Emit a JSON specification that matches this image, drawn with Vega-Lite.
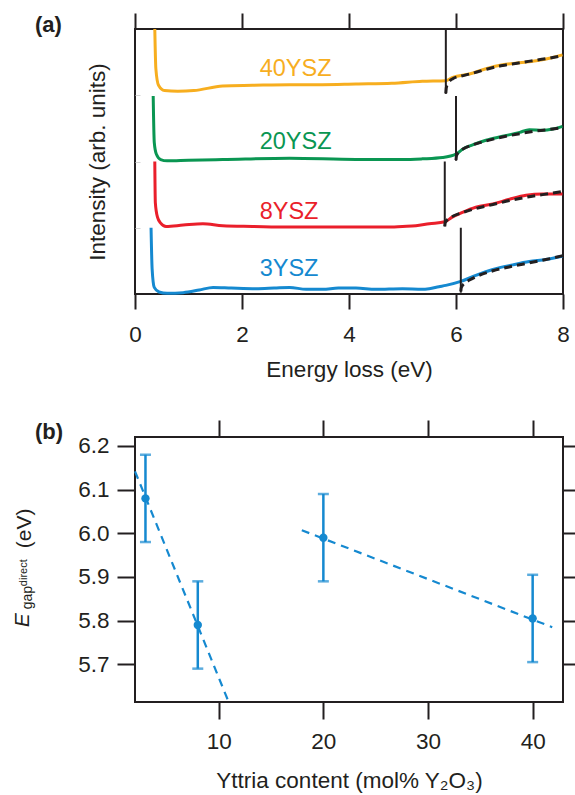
{
  "$schema": "https://vega.github.io/schema/vega-lite/v6.json",
  "padding": {"left": 10, "top": 11, "right": 0, "bottom": 0},
  "spacing": 36,
  "config": {
    "font": "Liberation Sans",
    "view": {"stroke": "#231f20", "strokeWidth": 2},
    "axis": {"domain": false, "grid": false, "tickColor": "#231f20", "tickWidth": 2, "labelColor": "#231f20", "labelFontSize": 22.5, "labelFont": "Liberation Sans", "titleFont": "Liberation Sans", "titleFontSize": 22.5, "titleFontWeight": "normal", "titleColor": "#231f20", "labelFlush": false, "labelOverlap": false},
    "title": {"fontSize": 22, "fontWeight": "bold", "color": "#231f20", "font": "Liberation Sans"}
  },
  "datasets": {
    "curves": [
      {"sample": "3YSZ", "E": 0.30, "I": 1.00}, {"sample": "3YSZ", "E": 0.32, "I": 0.38}, {"sample": "3YSZ", "E": 0.36, "I": 0.10}, {"sample": "3YSZ", "E": 0.45, "I": 0.03}, {"sample": "3YSZ", "E": 0.6, "I": 0.01}, {"sample": "3YSZ", "E": 0.9, "I": 0.02}, {"sample": "3YSZ", "E": 1.2, "I": 0.06}, {"sample": "3YSZ", "E": 1.46, "I": 0.10}, {"sample": "3YSZ", "E": 1.8, "I": 0.09}, {"sample": "3YSZ", "E": 2.26, "I": 0.08}, {"sample": "3YSZ", "E": 2.6, "I": 0.09}, {"sample": "3YSZ", "E": 2.89, "I": 0.10}, {"sample": "3YSZ", "E": 3.2, "I": 0.07}, {"sample": "3YSZ", "E": 3.51, "I": 0.07}, {"sample": "3YSZ", "E": 3.8, "I": 0.09}, {"sample": "3YSZ", "E": 4.13, "I": 0.09}, {"sample": "3YSZ", "E": 4.5, "I": 0.07}, {"sample": "3YSZ", "E": 5.0, "I": 0.08}, {"sample": "3YSZ", "E": 5.37, "I": 0.07}, {"sample": "3YSZ", "E": 5.5, "I": 0.08}, {"sample": "3YSZ", "E": 5.68, "I": 0.11}, {"sample": "3YSZ", "E": 5.81, "I": 0.13}, {"sample": "3YSZ", "E": 6.09, "I": 0.19}, {"sample": "3YSZ", "E": 6.37, "I": 0.28}, {"sample": "3YSZ", "E": 6.69, "I": 0.37}, {"sample": "3YSZ", "E": 7.06, "I": 0.44}, {"sample": "3YSZ", "E": 7.37, "I": 0.49}, {"sample": "3YSZ", "E": 7.68, "I": 0.52}, {"sample": "3YSZ", "E": 7.99, "I": 0.57},
      {"sample": "8YSZ", "E": 0.37, "I": 2.00}, {"sample": "8YSZ", "E": 0.38, "I": 1.38}, {"sample": "8YSZ", "E": 0.42, "I": 1.16}, {"sample": "8YSZ", "E": 0.48, "I": 1.07}, {"sample": "8YSZ", "E": 0.58, "I": 1.02}, {"sample": "8YSZ", "E": 0.9, "I": 1.04}, {"sample": "8YSZ", "E": 1.27, "I": 1.06}, {"sample": "8YSZ", "E": 1.64, "I": 1.03}, {"sample": "8YSZ", "E": 2.2, "I": 1.02}, {"sample": "8YSZ", "E": 2.89, "I": 1.01}, {"sample": "8YSZ", "E": 3.5, "I": 1.01}, {"sample": "8YSZ", "E": 4.13, "I": 1.01}, {"sample": "8YSZ", "E": 4.7, "I": 1.01}, {"sample": "8YSZ", "E": 5.0, "I": 1.02}, {"sample": "8YSZ", "E": 5.25, "I": 1.03}, {"sample": "8YSZ", "E": 5.5, "I": 1.06}, {"sample": "8YSZ", "E": 5.79, "I": 1.09}, {"sample": "8YSZ", "E": 5.93, "I": 1.16}, {"sample": "8YSZ", "E": 6.09, "I": 1.22}, {"sample": "8YSZ", "E": 6.37, "I": 1.31}, {"sample": "8YSZ", "E": 6.69, "I": 1.36}, {"sample": "8YSZ", "E": 7.0, "I": 1.43}, {"sample": "8YSZ", "E": 7.31, "I": 1.49}, {"sample": "8YSZ", "E": 7.62, "I": 1.51}, {"sample": "8YSZ", "E": 7.99, "I": 1.51},
      {"sample": "20YSZ", "E": 0.34, "I": 2.99}, {"sample": "20YSZ", "E": 0.36, "I": 2.29}, {"sample": "20YSZ", "E": 0.40, "I": 2.11}, {"sample": "20YSZ", "E": 0.48, "I": 2.03}, {"sample": "20YSZ", "E": 0.6, "I": 2.01}, {"sample": "20YSZ", "E": 1.0, "I": 2.02}, {"sample": "20YSZ", "E": 1.64, "I": 2.03}, {"sample": "20YSZ", "E": 2.89, "I": 2.05}, {"sample": "20YSZ", "E": 4.13, "I": 2.03}, {"sample": "20YSZ", "E": 5.0, "I": 2.03}, {"sample": "20YSZ", "E": 5.37, "I": 2.04}, {"sample": "20YSZ", "E": 5.75, "I": 2.06}, {"sample": "20YSZ", "E": 6.0, "I": 2.11}, {"sample": "20YSZ", "E": 6.13, "I": 2.19}, {"sample": "20YSZ", "E": 6.31, "I": 2.25}, {"sample": "20YSZ", "E": 6.56, "I": 2.32}, {"sample": "20YSZ", "E": 6.87, "I": 2.38}, {"sample": "20YSZ", "E": 7.19, "I": 2.44}, {"sample": "20YSZ", "E": 7.37, "I": 2.48}, {"sample": "20YSZ", "E": 7.62, "I": 2.47}, {"sample": "20YSZ", "E": 7.81, "I": 2.49}, {"sample": "20YSZ", "E": 7.99, "I": 2.53},
      {"sample": "40YSZ", "E": 0.37, "I": 4.00}, {"sample": "40YSZ", "E": 0.39, "I": 3.40}, {"sample": "40YSZ", "E": 0.44, "I": 3.15}, {"sample": "40YSZ", "E": 0.55, "I": 3.07}, {"sample": "40YSZ", "E": 0.8, "I": 3.06}, {"sample": "40YSZ", "E": 1.1, "I": 3.07}, {"sample": "40YSZ", "E": 1.64, "I": 3.14}, {"sample": "40YSZ", "E": 2.2, "I": 3.15}, {"sample": "40YSZ", "E": 2.89, "I": 3.16}, {"sample": "40YSZ", "E": 3.5, "I": 3.16}, {"sample": "40YSZ", "E": 4.13, "I": 3.17}, {"sample": "40YSZ", "E": 4.8, "I": 3.18}, {"sample": "40YSZ", "E": 5.37, "I": 3.21}, {"sample": "40YSZ", "E": 5.81, "I": 3.22}, {"sample": "40YSZ", "E": 5.94, "I": 3.27}, {"sample": "40YSZ", "E": 6.25, "I": 3.32}, {"sample": "40YSZ", "E": 6.56, "I": 3.40}, {"sample": "40YSZ", "E": 6.87, "I": 3.46}, {"sample": "40YSZ", "E": 7.19, "I": 3.49}, {"sample": "40YSZ", "E": 7.5, "I": 3.52}, {"sample": "40YSZ", "E": 7.81, "I": 3.57}, {"sample": "40YSZ", "E": 7.99, "I": 3.61}
    ],
    "fits": [
      {"sample": "40YSZ", "E": 5.81, "I": 3.03}, {"sample": "40YSZ", "E": 5.82, "I": 3.12}, {"sample": "40YSZ", "E": 5.86, "I": 3.19}, {"sample": "40YSZ", "E": 5.94, "I": 3.25}, {"sample": "40YSZ", "E": 6.1, "I": 3.29}, {"sample": "40YSZ", "E": 6.25, "I": 3.32}, {"sample": "40YSZ", "E": 6.56, "I": 3.39}, {"sample": "40YSZ", "E": 6.87, "I": 3.45}, {"sample": "40YSZ", "E": 7.19, "I": 3.49}, {"sample": "40YSZ", "E": 7.5, "I": 3.53}, {"sample": "40YSZ", "E": 7.81, "I": 3.57}, {"sample": "40YSZ", "E": 8.0, "I": 3.60},
      {"sample": "20YSZ", "E": 6.0, "I": 2.02}, {"sample": "20YSZ", "E": 6.01, "I": 2.09}, {"sample": "20YSZ", "E": 6.06, "I": 2.15}, {"sample": "20YSZ", "E": 6.13, "I": 2.19}, {"sample": "20YSZ", "E": 6.31, "I": 2.25}, {"sample": "20YSZ", "E": 6.56, "I": 2.31}, {"sample": "20YSZ", "E": 6.87, "I": 2.37}, {"sample": "20YSZ", "E": 7.19, "I": 2.42}, {"sample": "20YSZ", "E": 7.5, "I": 2.46}, {"sample": "20YSZ", "E": 7.81, "I": 2.49}, {"sample": "20YSZ", "E": 8.0, "I": 2.51},
      {"sample": "8YSZ", "E": 5.79, "I": 1.02}, {"sample": "8YSZ", "E": 5.8, "I": 1.08}, {"sample": "8YSZ", "E": 5.85, "I": 1.13}, {"sample": "8YSZ", "E": 5.93, "I": 1.17}, {"sample": "8YSZ", "E": 6.09, "I": 1.22}, {"sample": "8YSZ", "E": 6.37, "I": 1.29}, {"sample": "8YSZ", "E": 6.69, "I": 1.35}, {"sample": "8YSZ", "E": 7.0, "I": 1.41}, {"sample": "8YSZ", "E": 7.31, "I": 1.46}, {"sample": "8YSZ", "E": 7.62, "I": 1.5}, {"sample": "8YSZ", "E": 8.0, "I": 1.55},
      {"sample": "3YSZ", "E": 6.09, "I": 0.04}, {"sample": "3YSZ", "E": 6.1, "I": 0.1}, {"sample": "3YSZ", "E": 6.16, "I": 0.16}, {"sample": "3YSZ", "E": 6.25, "I": 0.21}, {"sample": "3YSZ", "E": 6.37, "I": 0.26}, {"sample": "3YSZ", "E": 6.69, "I": 0.35}, {"sample": "3YSZ", "E": 7.06, "I": 0.42}, {"sample": "3YSZ", "E": 7.37, "I": 0.47}, {"sample": "3YSZ", "E": 7.68, "I": 0.52}, {"sample": "3YSZ", "E": 8.0, "I": 0.58}
    ],
    "onsets": [
      {"sample": "3YSZ", "Eg": 6.09, "lo": 0.02, "hi": 1.0},
      {"sample": "8YSZ", "Eg": 5.79, "lo": 1.02, "hi": 2.0},
      {"sample": "20YSZ", "Eg": 6.0, "lo": 2.01, "hi": 2.99},
      {"sample": "40YSZ", "Eg": 5.81, "lo": 3.02, "hi": 4.0}
    ],
    "labels": [
      {"sample": "3YSZ", "E": 2.33, "I": 0.37},
      {"sample": "8YSZ", "E": 2.33, "I": 1.245},
      {"sample": "20YSZ", "E": 2.33, "I": 2.29},
      {"sample": "40YSZ", "E": 2.33, "I": 3.40}
    ],
    "gaps": [
      {"Y": 3, "Eg": 6.08, "lo": 5.98, "hi": 6.18},
      {"Y": 8, "Eg": 5.79, "lo": 5.69, "hi": 5.89},
      {"Y": 20, "Eg": 5.99, "lo": 5.89, "hi": 6.09},
      {"Y": 40, "Eg": 5.805, "lo": 5.705, "hi": 5.905}
    ],
    "trend": [
      {"seg": "low", "Y": 2.0, "Eg": 6.142},
      {"seg": "low", "Y": 10.95, "Eg": 5.6136},
      {"seg": "high", "Y": 17.94, "Eg": 6.007},
      {"seg": "high", "Y": 41.87, "Eg": 5.785}
    ]
  },
  "vconcat": [
    {
      "width": 428,
      "height": 265,
      "title": {"text": "(a)", "anchor": "start", "frame": "group", "dx": -100, "dy": 25, "offset": 0},
      "resolve": {"axis": {"x": "independent", "y": "independent"}},
      "layer": [
        {
          "data": {"name": "curves"},
          "mark": {"type": "line", "strokeWidth": 3, "interpolate": "monotone"},
          "encoding": {
            "x": {"field": "E", "type": "quantitative", "scale": {"domain": [0, 8], "nice": false, "zero": false},
                  "axis": {"orient": "bottom", "values": [0, 2, 4, 6, 8], "title": "Energy loss (eV)", "tickSize": 15, "labelPadding": 14, "titlePadding": 13}},
            "y": {"field": "I", "type": "quantitative", "scale": {"domain": [0, 4], "nice": false, "zero": false},
                  "axis": {"orient": "left", "values": [1, 2, 3], "labels": false, "tickSize": -5, "tickColor": "#d5d5d5", "tickWidth": 1, "title": "Intensity (arb. units)", "titlePadding": 25}},
            "color": {"field": "sample", "type": "nominal", "scale": {"domain": ["3YSZ", "8YSZ", "20YSZ", "40YSZ"], "range": ["#1589d0", "#ea1f2b", "#0a9652", "#f7ae1f"]}, "legend": null},
            "detail": {"field": "sample"}
          }
        },
        {
          "data": {"name": "fits"},
          "mark": {"type": "line", "strokeWidth": 3, "strokeDash": [8, 5], "color": "#231f20", "interpolate": "monotone"},
          "encoding": {
            "x": {"field": "E", "type": "quantitative", "axis": {"orient": "top", "values": [0, 2, 4, 6, 8], "labels": false, "tickSize": 16, "title": null}},
            "y": {"field": "I", "type": "quantitative", "axis": null},
            "detail": {"field": "sample"}
          }
        },
        {
          "data": {"name": "onsets"},
          "mark": {"type": "rule", "strokeWidth": 2, "color": "#231f20"},
          "encoding": {
            "x": {"field": "Eg", "type": "quantitative", "axis": null},
            "y": {"field": "lo", "type": "quantitative", "axis": null},
            "y2": {"field": "hi"}
          }
        },
        {
          "data": {"name": "labels"},
          "mark": {"type": "text", "align": "left", "baseline": "middle", "fontSize": 23.5},
          "encoding": {
            "x": {"field": "E", "type": "quantitative", "axis": null},
            "y": {"field": "I", "type": "quantitative", "axis": null},
            "text": {"field": "sample"},
            "color": {"field": "sample", "type": "nominal", "legend": null}
          }
        }
      ]
    },
    {
      "width": 428,
      "height": 265,
      "title": {"text": "(b)", "anchor": "start", "frame": "group", "dx": -100, "dy": 25, "offset": 0},
      "resolve": {"axis": {"x": "independent", "y": "independent"}},
      "layer": [
        {
          "data": {"name": "gaps"},
          "mark": {"type": "rule", "strokeWidth": 2.5, "color": "#1589d0"},
          "encoding": {
            "x": {"field": "Y", "type": "quantitative", "scale": {"domain": [2, 42.9], "nice": false, "zero": false},
                  "axis": {"orient": "bottom", "values": [10, 20, 30, 40], "title": "Yttria content (mol% Y₂O₃)", "tickSize": 17, "labelPadding": 11, "titlePadding": 17}},
            "y": {"field": "lo", "type": "quantitative", "scale": {"domain": [5.6136, 6.2206], "nice": false, "zero": false},
                  "axis": {"orient": "left", "values": [5.7, 5.8, 5.9, 6.0, 6.1, 6.2], "format": ".1f", "tickSize": 18, "labelPadding": 8, "title": null}},
            "y2": {"field": "hi"}
          }
        },
        {
          "data": {"name": "gaps"},
          "mark": {"type": "tick", "orient": "horizontal", "size": 11, "thickness": 2.5, "color": "#1589d0"},
          "encoding": {
            "x": {"field": "Y", "type": "quantitative", "axis": {"orient": "top", "values": [10, 20, 30, 40], "labels": false, "tickSize": 17, "title": null}},
            "y": {"field": "lo", "type": "quantitative", "axis": {"orient": "right", "values": [5.7, 5.8, 5.9, 6.0, 6.1, 6.2], "labels": false, "tickSize": 13, "title": null}}
          }
        },
        {
          "data": {"name": "gaps"},
          "mark": {"type": "tick", "orient": "horizontal", "size": 11, "thickness": 2.5, "color": "#1589d0"},
          "encoding": {
            "x": {"field": "Y", "type": "quantitative", "axis": null},
            "y": {"field": "hi", "type": "quantitative", "axis": null}
          }
        },
        {
          "data": {"name": "trend"},
          "mark": {"type": "line", "strokeWidth": 2.2, "strokeDash": [8, 6], "color": "#1589d0"},
          "encoding": {
            "x": {"field": "Y", "type": "quantitative", "axis": null},
            "y": {"field": "Eg", "type": "quantitative", "axis": null},
            "detail": {"field": "seg"}
          }
        },
        {
          "data": {"name": "gaps"},
          "mark": {"type": "circle", "size": 70, "opacity": 1, "color": "#1589d0"},
          "encoding": {
            "x": {"field": "Y", "type": "quantitative", "axis": null},
            "y": {"field": "Eg", "type": "quantitative", "axis": null}
          }
        },
        {
          "data": {"values": [{}]},
          "mark": {"type": "text", "angle": 270, "align": "left", "baseline": "alphabetic", "fontSize": 21, "fontStyle": "italic", "color": "#231f20"},
          "encoding": {
            "x": {"datum": -8.17, "type": "quantitative", "axis": null},
            "y": {"datum": 5.785, "type": "quantitative", "axis": null},
            "text": {"value": "E"}
          }
        },
        {
          "data": {"values": [{}]},
          "mark": {"type": "text", "angle": 270, "align": "left", "baseline": "alphabetic", "fontSize": 14, "color": "#231f20"},
          "encoding": {
            "x": {"datum": -7.885, "type": "quantitative", "axis": null},
            "y": {"datum": 5.826, "type": "quantitative", "axis": null},
            "text": {"value": "gap"}
          }
        },
        {
          "data": {"values": [{}]},
          "mark": {"type": "text", "angle": 270, "align": "left", "baseline": "alphabetic", "fontSize": 11, "color": "#231f20"},
          "encoding": {
            "x": {"datum": -8.36, "type": "quantitative", "axis": null},
            "y": {"datum": 5.879, "type": "quantitative", "axis": null},
            "text": {"value": "direct"}
          }
        },
        {
          "data": {"values": [{}]},
          "mark": {"type": "text", "angle": 270, "align": "left", "baseline": "alphabetic", "fontSize": 21, "color": "#231f20"},
          "encoding": {
            "x": {"datum": -7.98, "type": "quantitative", "axis": null},
            "y": {"datum": 5.966, "type": "quantitative", "axis": null},
            "text": {"value": "(eV)"}
          }
        }
      ]
    }
  ]
}
